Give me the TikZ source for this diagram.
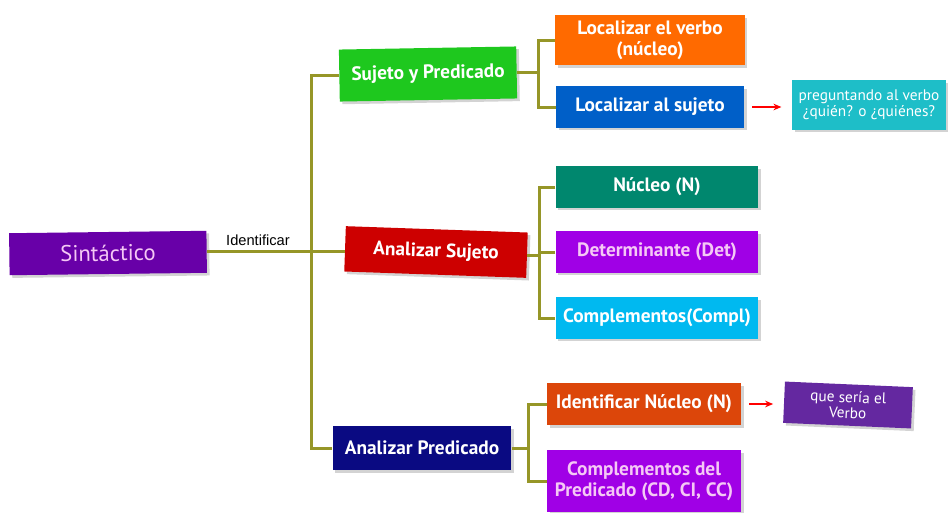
\documentclass[tikz,border=0pt]{standalone}
\usepackage{fontspec}
\setmainfont{PT Sans}
\newfontfamily\arialfont{Liberation Sans}
\usetikzlibrary{shadows,arrows.meta}

\definecolor{olivo}{RGB}{150,150,40}
\definecolor{morado}{RGB}{104,0,168}
\definecolor{rosa}{RGB}{245,200,245}
\definecolor{verde}{RGB}{30,200,30}
\definecolor{naranja}{RGB}{255,106,0}
\definecolor{azul}{RGB}{0,95,200}
\definecolor{turquesa}{RGB}{30,190,200}
\definecolor{rojo}{RGB}{205,0,0}
\definecolor{esmeralda}{RGB}{0,135,110}
\definecolor{violeta}{RGB}{160,0,230}
\definecolor{celeste}{RGB}{0,185,240}
\definecolor{marino}{RGB}{10,10,130}
\definecolor{teja}{RGB}{220,70,10}
\definecolor{lila}{RGB}{100,40,160}

\begin{document}
\begin{tikzpicture}[x=0.75pt,y=-0.75pt,
  caja/.style={rectangle,text=white,align=center,inner sep=0pt,
    font=\bfseries\fontsize{14.5}{15.5}\selectfont,
    drop shadow={shadow xshift=2pt,shadow yshift=-2pt,opacity=0.35}},
  nota/.style={caja,font=\fontsize{11.5}{12}\selectfont},
  linea/.style={draw=olivo,line width=2.25pt},
  flecha/.style={draw=red,line width=1.2pt,-{Stealth[length=6pt,width=5pt]},
    shorten <=6pt,shorten >=8pt}]

\useasboundingbox (0,0) rectangle (951,512);

\node[caja,fill=morado,text=rosa,font=\fontsize{17}{18}\selectfont,
  minimum width=148pt,minimum height=31.5pt,rotate=0.7] (sint) at (108,253) {Sintáctico};

\node[font=\arialfont\fontsize{11}{12}\selectfont] (ident) at (258,240) {Identificar};

\node[caja,fill=verde,minimum width=133pt,minimum height=39pt,rotate=1] (sypred) at (428,74) {Sujeto y Predicado};
\node[caja,fill=rojo,minimum width=136.5pt,minimum height=34pt,rotate=-2] (asuj) at (436,252) {Analizar Sujeto};
\node[caja,fill=marino,minimum width=134pt,minimum height=33pt] (apred) at (422,448) {Analizar Predicado};

\node[caja,fill=naranja,minimum width=142pt,minimum height=37.5pt] (lverbo) at (650,40) {Localizar el verbo\\(núcleo)};
\node[caja,fill=azul,minimum width=141pt,minimum height=31pt] (lsuj) at (650,107) {Localizar al sujeto};
\node[nota,fill=turquesa,minimum width=115pt,minimum height=37pt] (preg) at (869,105) {preguntando al verbo\\¿quién? o ¿quiénes?};

\node[caja,fill=esmeralda,minimum width=152pt,minimum height=31pt] (nuc) at (657,187) {Núcleo (N)};
\node[caja,fill=violeta,text=rosa,minimum width=152pt,minimum height=31pt] (det) at (657,252) {Determinante (Det)};
\node[caja,fill=celeste,minimum width=152pt,minimum height=31pt] (compl) at (657,318) {Complementos(Compl)};

\node[caja,fill=teja,minimum width=145.5pt,minimum height=31.5pt] (inuc) at (644,404) {Identificar Núcleo (N)};
\node[caja,fill=violeta,text=rosa,minimum width=145.5pt,minimum height=46.5pt] (cpred) at (644,481) {Complementos del\\Predicado (CD, CI, CC)};
\node[nota,fill=lila,minimum width=96pt,minimum height=31pt,rotate=-2.5] (verbo) at (848,405) {que sería el\\Verbo};

\coordinate (tr) at (311,252) ;

\draw[linea] (sint.east) -- (sint.east -| asuj.west) ;
\draw[linea] (sypred.west) -| (tr) |- (apred.west) ;

\draw[linea] (sypred.east) -- ++(22,0) coordinate (j1) ;
\draw[linea] (lverbo.west) -| (j1) |- (lsuj.west) ;

\draw[linea] (asuj.east) -- ++(12,0) coordinate (j2) ;
\draw[linea] (nuc.west) -| (j2) |- (compl.west) ;
\draw[linea] (det.west) -- (det.west -| j2) ;

\draw[linea] (apred.east) -- ++(17,0) coordinate (j3) ;
\draw[linea] (inuc.west) -| (j3) |- (cpred.west) ;

\draw[flecha] (lsuj.east) -- (lsuj.east -| preg.west) ;
\draw[flecha] (inuc.east) -- (inuc.east -| verbo.west) ;

\end{tikzpicture}
\end{document}
